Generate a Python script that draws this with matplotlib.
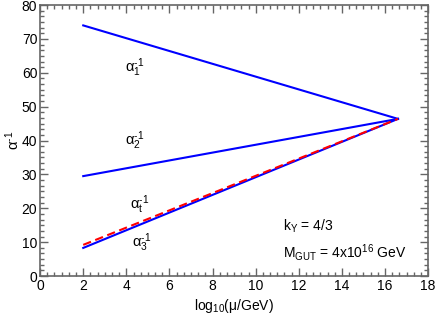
import matplotlib
matplotlib.use("Agg")
import matplotlib.pyplot as plt
from matplotlib.ticker import MultipleLocator, AutoMinorLocator

plt.rcParams['font.family'] = ['Liberation Sans', 'DejaVu Sans']
plt.rcParams['mathtext.fontset'] = 'custom'
plt.rcParams['mathtext.rm'] = 'Liberation Sans'
plt.rcParams['mathtext.it'] = 'Liberation Sans'
plt.rcParams['mathtext.default'] = 'regular'

# data
mu_log = [2.0, 16.6]
alpha1_inv = [74.0, 46.4]
alpha2_inv = [29.5, 46.4]
alpha3_inv = [8.3, 46.4]
alphat_inv = [9.2, 46.4]

labels = [r'α$_1^{\text{-}1}$', r'α$_2^{\text{-}1}$', r'α$_t^{\text{-}1}$', r'α$_3^{\text{-}1}$']
label_x = [4.4, 4.4, 4.6, 4.7]
label_y = [61.5, 40.0, 21.0, 9.8]

fig = plt.figure(figsize=(4.36, 3.18), dpi=100)
ax = fig.add_axes([0.092, 0.132, 0.89, 0.852])

ax.plot(mu_log, alpha1_inv, color='#0000ff', lw=1.5)
ax.plot(mu_log, alpha2_inv, color='#0000ff', lw=1.5)
ax.plot(mu_log, alpha3_inv, color='#0000ff', lw=1.5)
ax.plot(mu_log, alphat_inv, color='#ff0000', lw=1.5, ls=(0, (4, 2.2)))

for t, x, y in zip(labels, label_x, label_y):
    ax.text(x, y, t, fontsize=10.5, ha='center', va='center')

ax.text(11.25, 14.7, 'k$_Y$ = 4/3', fontsize=10, ha='left', va='center')
ax.text(11.25, 7.0, 'M$_{GUT}$ = 4x10$^{16}$ GeV', fontsize=10, ha='left', va='center')

ax.set_xlim(0, 18)
ax.set_ylim(0, 80)
ax.xaxis.set_major_locator(MultipleLocator(2))
ax.yaxis.set_major_locator(MultipleLocator(10))
ax.xaxis.set_minor_locator(AutoMinorLocator(6))
ax.yaxis.set_minor_locator(AutoMinorLocator(6))

gc = '#666666'
for s in ax.spines.values():
    s.set_color(gc)
    s.set_linewidth(1.2)
ax.tick_params(which='both', direction='in', top=True, right=True, color=gc,
               labelsize=10, width=1.0, pad=2)
ax.tick_params(which='major', length=6)
ax.tick_params(which='minor', length=3)

ax.set_xlabel('log$_{10}$(μ/GeV)', fontsize=10, labelpad=3)
ax.set_ylabel(r'α$^{\text{-}1}$', fontsize=10.5, labelpad=0)

fig.savefig('out.png', dpi=100)
